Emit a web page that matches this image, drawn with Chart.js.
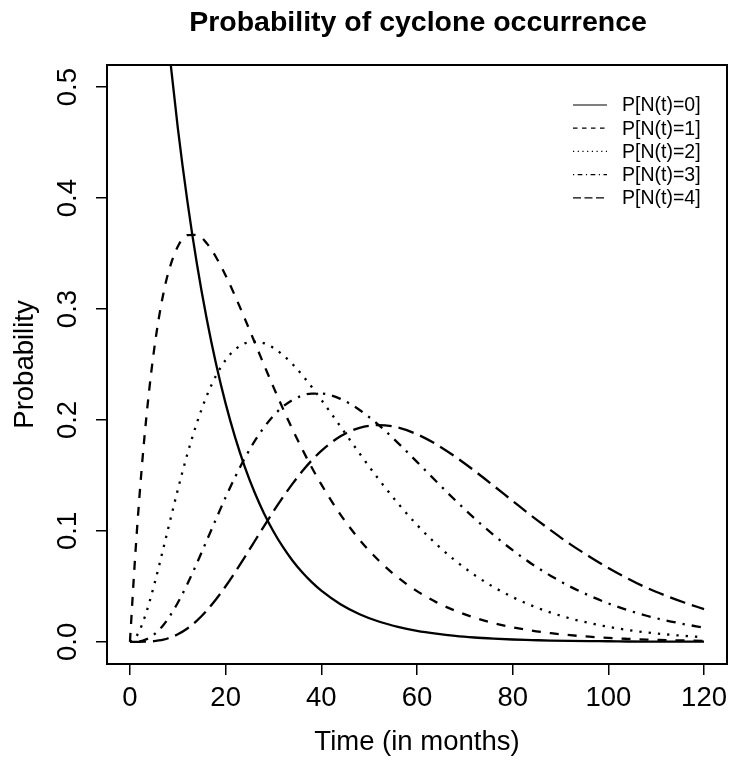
<!DOCTYPE html>
<html>
<head>
<meta charset="utf-8">
<script src="https://cdn.jsdelivr.net/npm/chart.js@4/dist/chart.umd.min.js"></script>
<style>
  body { margin: 0; background: #fff; }
  #chart { display: block; background: #fff; }
</style>
</head>
<body>
<canvas id="chart" width="731" height="760"></canvas>
<script>
// months sampled (denser near 0 where the curves are steep)
const months = [0, 1, 2, 3, 4, 5, 6, 7, 8, 10, 12, 14, 16, 18, 20, 22, 24, 26, 28, 30, 32, 34, 36, 38, 40,
  44, 48, 52, 56, 60, 64, 68, 72, 76, 80, 84, 88, 92, 96, 100, 104, 108, 112, 116, 120];

const p0 = [1, 0.926, 0.8574, 0.7939, 0.7351, 0.6807, 0.6303, 0.5836, 0.5404, 0.4634, 0.3973, 0.3406, 0.2921,
  0.2504, 0.2147, 0.1841, 0.1578, 0.1353, 0.116, 0.0995, 0.0853, 0.0731, 0.0627, 0.0538, 0.0461,
  0.0339, 0.0249, 0.0183, 0.0135, 0.0099, 0.0073, 0.0053, 0.0039, 0.0029, 0.0021, 0.0016, 0.0011,
  0.0008, 0.0006, 0.0005, 0.0003, 0.0002, 0.0002, 0.0001, 0.0001];
const p1 = [0, 0.0712, 0.1319, 0.1832, 0.2262, 0.2618, 0.2909, 0.3143, 0.3326, 0.3564, 0.3667, 0.3668, 0.3595,
  0.3467, 0.3303, 0.3115, 0.2914, 0.2707, 0.2499, 0.2296, 0.21, 0.1913, 0.1737, 0.1572, 0.1419,
  0.1147, 0.092, 0.0733, 0.058, 0.0457, 0.0358, 0.028, 0.0218, 0.0169, 0.0131, 0.0101, 0.0078,
  0.006, 0.0046, 0.0035, 0.0027, 0.002, 0.0016, 0.0012, 0.0009];
const p2 = [0, 0.0027, 0.0102, 0.0211, 0.0348, 0.0504, 0.0671, 0.0846, 0.1023, 0.1371, 0.1693, 0.1975, 0.2212,
  0.24, 0.2541, 0.2636, 0.269, 0.2707, 0.2692, 0.2649, 0.2584, 0.2502, 0.2405, 0.2297, 0.2182,
  0.1941, 0.1698, 0.1465, 0.1249, 0.1054, 0.0882, 0.0732, 0.0603, 0.0494, 0.0403, 0.0326, 0.0263,
  0.0211, 0.017, 0.0135, 0.0107, 0.0085, 0.0067, 0.0053, 0.0042];
const p3 = [0, 0.0001, 0.0005, 0.0016, 0.0036, 0.0065, 0.0103, 0.0152, 0.021, 0.0352, 0.0521, 0.0709, 0.0908,
  0.1108, 0.1303, 0.1487, 0.1655, 0.1805, 0.1932, 0.2038, 0.2121, 0.2181, 0.222, 0.2238, 0.2238,
  0.219, 0.209, 0.1954, 0.1794, 0.1622, 0.1447, 0.1276, 0.1114, 0.0963, 0.0826, 0.0702, 0.0594,
  0.0498, 0.0417, 0.0346, 0.0286, 0.0235, 0.0193, 0.0158, 0.0128];
const p4 = [0, 0, 0, 0.0001, 0.0003, 0.0006, 0.0012, 0.002, 0.0032, 0.0068, 0.012, 0.0191, 0.0279,
  0.0384, 0.0501, 0.0629, 0.0764, 0.0902, 0.1041, 0.1176, 0.1305, 0.1426, 0.1537, 0.1636, 0.1722,
  0.1853, 0.1929, 0.1954, 0.1932, 0.1871, 0.1781, 0.1669, 0.1542, 0.1407, 0.127, 0.1134, 0.1005,
  0.0881, 0.077, 0.0666, 0.0572, 0.0487, 0.0416, 0.0352, 0.0295];

const seriesNames = ['P[N(t)=0]', 'P[N(t)=1]', 'P[N(t)=2]', 'P[N(t)=3]', 'P[N(t)=4]'];
const xTicks = [0, 20, 40, 60, 80, 100, 120];
const yTicks = [0, 0.1, 0.2, 0.3, 0.4, 0.5];

const lineDash = [[], [9, 9], [2.3, 7], [2.3, 7, 9.3, 7], [16, 7]];
const legendDash = [[], [4.5, 4.5], [1.2, 3.5], [1.2, 3.5, 4.7, 3.5], [8, 3.5]];

const FONT = "'Liberation Sans', Arial, Helvetica, sans-serif";

const toPoints = arr => months.map((m, i) => ({x: m, y: arr[i]}));
const series = [p0, p1, p2, p3, p4];

const decor = {
  id: 'decor',
  afterDraw(chart) {
    const ctx = chart.ctx;
    const a = chart.chartArea;
    const xs = chart.scales.x, ys = chart.scales.y;
    ctx.save();
    ctx.strokeStyle = '#000';
    ctx.lineWidth = 2;
    ctx.strokeRect(a.left, a.top, a.right - a.left, a.bottom - a.top);

    ctx.fillStyle = '#000';
    ctx.font = '27.5px ' + FONT;
    ctx.textAlign = 'center';
    ctx.textBaseline = 'alphabetic';
    xs.ticks.forEach(t => {
      ctx.fillText(t.label, xs.getPixelForValue(t.value), 706);
    });
    ys.ticks.forEach(t => {
      ctx.save();
      ctx.translate(75.5, ys.getPixelForValue(t.value));
      ctx.rotate(-Math.PI / 2);
      ctx.fillText(t.label, 0, 0);
      ctx.restore();
    });

    const cx = (a.left + a.right) / 2;
    ctx.fillText('Time (in months)', cx, 750);
    ctx.save();
    ctx.translate(33, (a.top + a.bottom) / 2);
    ctx.rotate(-Math.PI / 2);
    ctx.fillText('Probability', 0, 0);
    ctx.restore();

    ctx.font = 'bold 28.5px ' + FONT;
    ctx.fillText('Probability of cyclone occurrence', cx + 1, 31);

    // legend
    ctx.font = '19.5px ' + FONT;
    ctx.textAlign = 'left';
    ctx.textBaseline = 'middle';
    ctx.lineWidth = 1.2;
    chart.data.datasets.forEach((ds, i) => {
      const y = 105 + i * 23.2;
      ctx.setLineDash(legendDash[i]);
      ctx.beginPath();
      ctx.moveTo(573, y);
      ctx.lineTo(607, y);
      ctx.stroke();
      ctx.setLineDash([]);
      ctx.fillText(ds.label, 622, y + 1);
    });
    ctx.restore();
  }
};

const axisCommon = {
  type: 'linear',
  ticks: {display: false},
  grid: {drawOnChartArea: false, drawTicks: true, tickLength: 11, color: '#000', lineWidth: 1.5},
  border: {display: false}
};

new Chart(document.getElementById('chart'), {
  type: 'line',
  data: {
    datasets: series.map((arr, i) => ({
      label: seriesNames[i],
      data: toPoints(arr),
      borderColor: '#000',
      borderWidth: 2.3,
      borderDash: lineDash[i],
      pointRadius: 0,
      fill: false,
      cubicInterpolationMode: 'monotone'
    }))
  },
  options: {
    responsive: false,
    animation: false,
    layout: {padding: {left: 96, right: 4, top: 65, bottom: 85}},
    plugins: {legend: {display: false}, tooltip: {enabled: false}},
    scales: {
      x: Object.assign({}, axisCommon, {
        min: -4.8, max: 124.8,
        ticks: {display: false, callback: v => String(v)},
        afterBuildTicks: s => { s.ticks = xTicks.map(v => ({value: v})); }
      }),
      y: Object.assign({}, axisCommon, {
        min: -0.02, max: 0.52,
        ticks: {display: false, callback: v => v.toFixed(1)},
        afterBuildTicks: s => { s.ticks = yTicks.map(v => ({value: v})); }
      })
    }
  },
  plugins: [decor]
});
</script>
</body>
</html>
